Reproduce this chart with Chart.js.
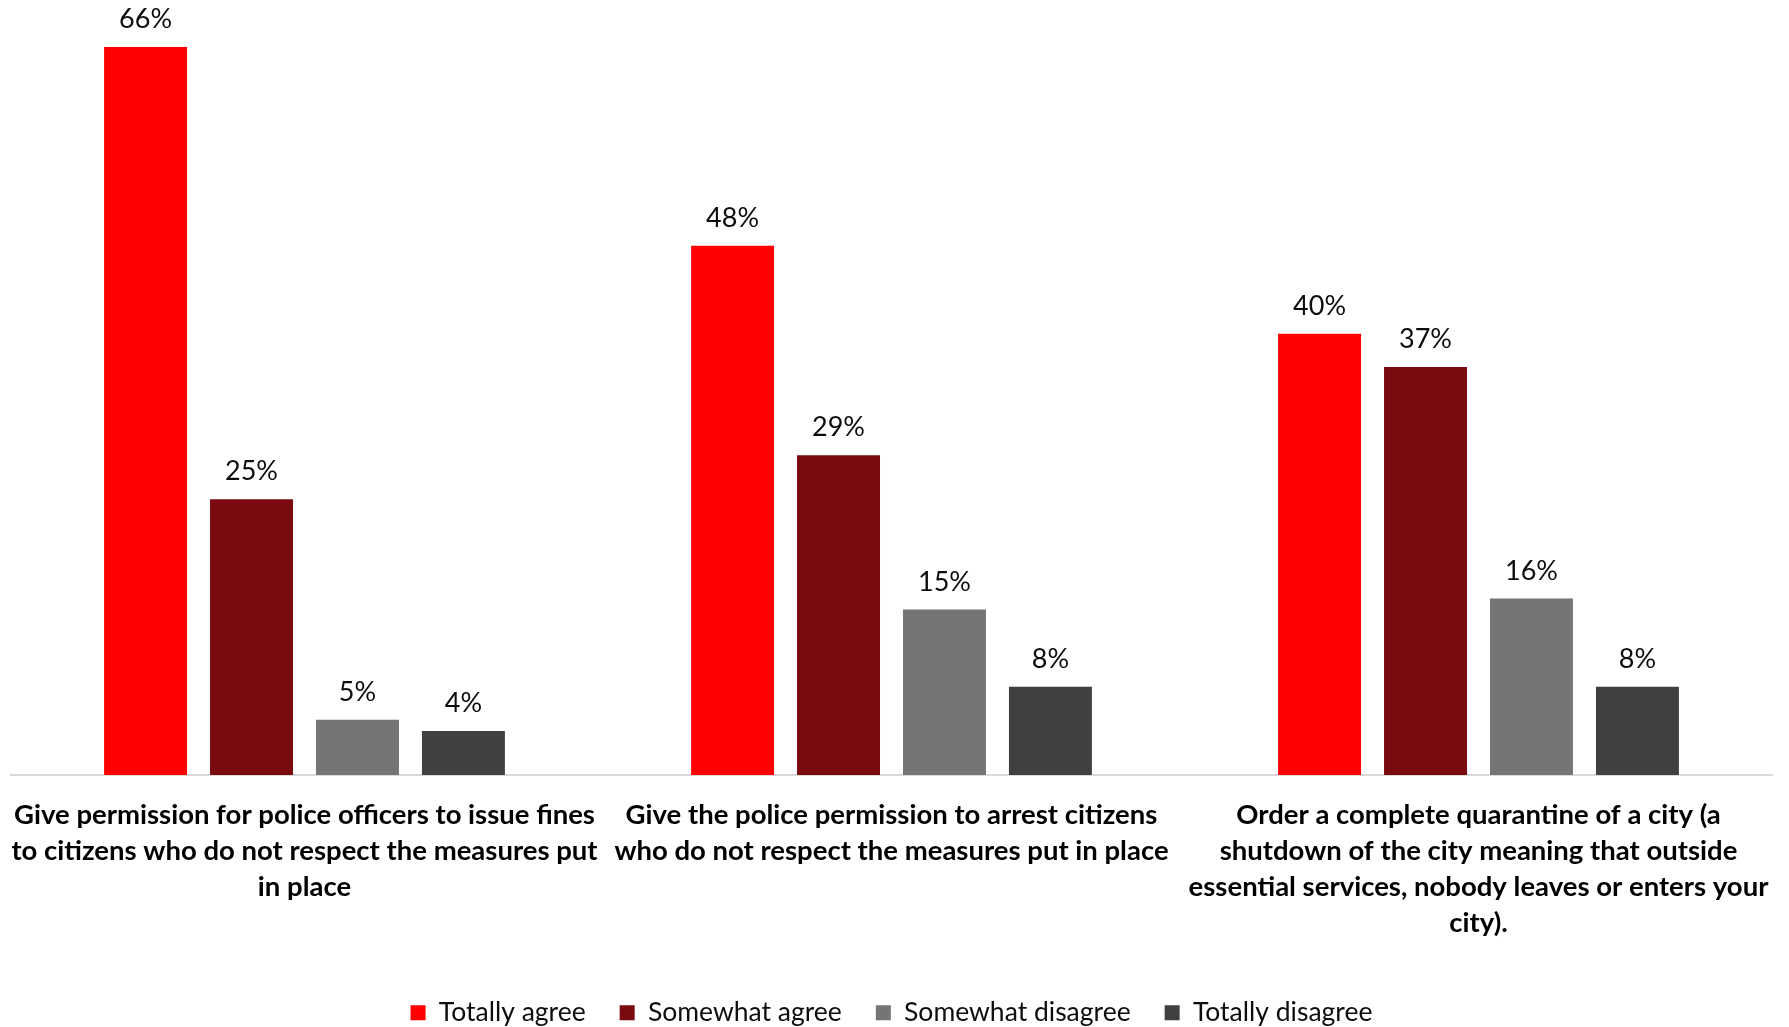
<!DOCTYPE html>
<html>
<head>
<meta charset="utf-8">
<script src="https://cdn.jsdelivr.net/npm/chart.js@4/dist/chart.umd.min.js"></script>
<style>
  html, body { margin: 0; padding: 0; background: #fff; }
  #wrap { width: 1789px; height: 1027px; }
</style>
</head>
<body>
<div id="wrap"><canvas id="chart" width="1789" height="1027"></canvas></div>
<script>
const categories = [
  ['Give permission for police officers to issue fines', 'to citizens who do not respect the measures put', 'in place'],
  ['Give the police permission to arrest citizens', 'who do not respect the measures put in place'],
  ['Order a complete quarantine of a city (a', 'shutdown of the city meaning that outside', 'essential services, nobody leaves or enters your', 'city).']
]
const seriesNames = ['Totally agree', 'Somewhat agree', 'Somewhat disagree', 'Totally disagree']
const totallyAgree = [66, 48, 40]
const somewhatAgree = [25, 29, 37]
const somewhatDisagree = [5, 15, 16]
const totallyDisagree = [4, 8, 8]
const colors = ['#ff0000', '#7a0a10', '#757575', '#404040']

const FONT = 'Lato, "Open Sans", sans-serif'

// draws the % labels above each bar, from the bar elements' own positions
const barLabels = {
  id: 'barLabels',
  afterDatasetsDraw(chart) {
    const ctx = chart.ctx
    ctx.save()
    ctx.font = '27px ' + FONT
    ctx.fillStyle = '#0d0d0d'
    ctx.textAlign = 'center'
    ctx.textBaseline = 'bottom'
    chart.data.datasets.forEach((ds, i) => {
      chart.getDatasetMeta(i).data.forEach((bar, j) => {
        ctx.fillText(ds.data[j] + '%', bar.x, bar.y - 14)
      })
    })
    ctx.restore()
  }
}

const seriesData = [totallyAgree, somewhatAgree, somewhatDisagree, totallyDisagree]

new Chart(document.getElementById('chart'), {
  type: 'bar',
  data: {
    labels: categories,
    datasets: seriesNames.map((name, i) => ({
      label: name,
      data: seriesData[i],
      backgroundColor: colors[i],
      categoryPercentage: 0.722,
      barPercentage: 0.783
    }))
  },
  options: {
    responsive: false,
    animation: false,
    layout: { padding: { left: 11, right: 17, top: 3, bottom: -9 } },
    scales: {
      x: {
        // long labels would otherwise push the plot area inwards
        afterFit: (scale) => {
          scale.paddingLeft = 0
          scale.paddingRight = 0
          scale.height += 2.5
        },
        grid: { display: false, drawTicks: false },
        border: { display: true, color: '#d9d9d9', width: 2 },
        ticks: {
          color: '#000',
          padding: 22,
          maxRotation: 0,
          autoSkip: false,
          font: { family: FONT, size: 27.5, weight: 'bold', lineHeight: '36px' }
        }
      },
      y: { display: false, min: 0, max: 70 }
    },
    plugins: {
      tooltip: { enabled: false },
      legend: {
        position: 'bottom',
        labels: {
          color: '#0d0d0d',
          boxWidth: 15,
          boxHeight: 15,
          padding: 34,
          font: { family: FONT, size: 26.5 }
        }
      }
    }
  },
  plugins: [barLabels]
})
</script>
</body>
</html>
